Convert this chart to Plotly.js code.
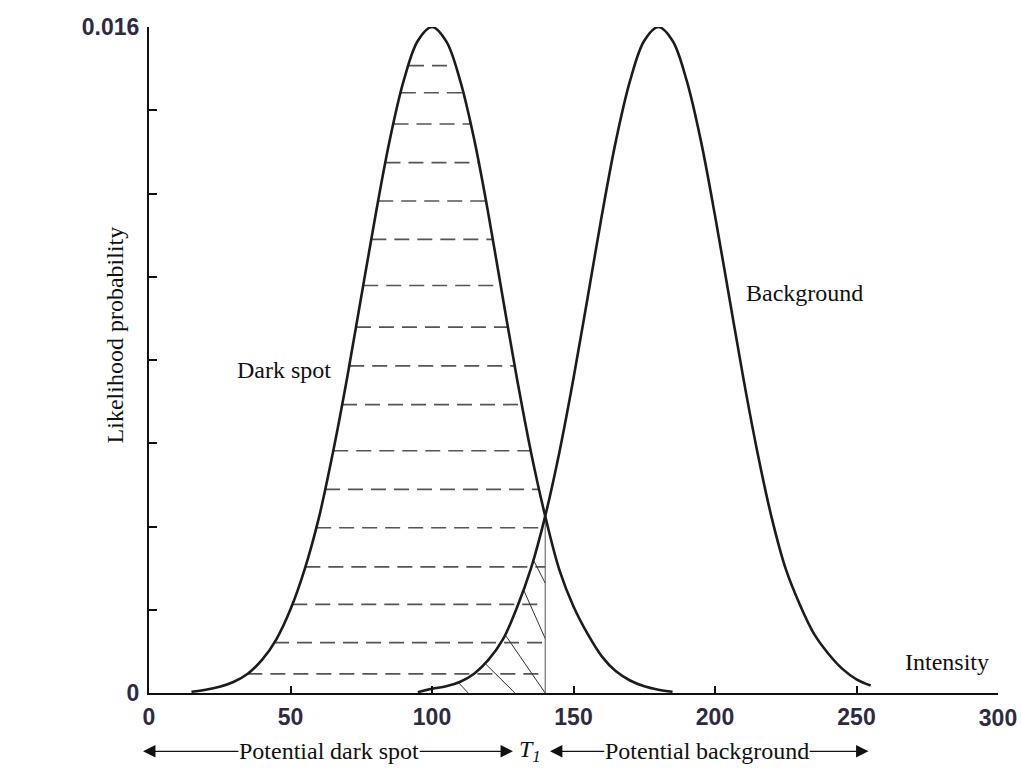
<!DOCTYPE html>
<html>
<head>
<meta charset="utf-8">
<script src="https://cdn.plot.ly/plotly-3.0.1.min.js"></script>
<style>html,body{margin:0;padding:0;background:#fff;}#chart{width:1021px;height:773px;}</style>
</head>
<body>
<div id="chart"></div>
<script>
// ---- data ----
const darkX = [15,20,25,30,35,40,45,50,55,60,65,70,75,80,85,90,95,100,105,110,115,120,125,130,135,140,145,150,155,160,165,170,175,180,185];
const darkY = [0.00003,0.00008,0.00015,0.00027,0.00047,0.00080,0.00129,0.00201,0.00297,0.00420,0.00578,0.00757,0.00952,0.01146,0.01326,0.01471,0.01567,0.01600,0.01566,0.01470,0.01327,0.01148,0.00950,0.00756,0.00578,0.00425,0.00296,0.00208,0.00142,0.00088,0.00052,0.00030,0.00016,0.00008,0.00003];
const bgX = [95,100,105,110,115,120,125,130,135,140,145,150,155,160,165,170,175,180,185,190,195,200,205,210,215,220,225,230,235,240,245,250,255];
const bgY = [0.00002,0.00010,0.00016,0.00027,0.00047,0.00080,0.00128,0.00205,0.00300,0.00425,0.00578,0.00756,0.00950,0.01147,0.01327,0.01471,0.01567,0.01600,0.01567,0.01471,0.01327,0.01147,0.00952,0.00757,0.00578,0.00422,0.00298,0.00212,0.00142,0.00095,0.00058,0.00033,0.00018];
const threshold = 140; // T1
const hatchLevels = [0.01507,0.01442,0.01367,0.01274,0.01182,0.01090,0.00979,0.00879,0.00786,0.00693,0.00582,0.00489,0.00397,0.00303,0.00213,0.00121,0.00046];
const diagStartX = [109.3,118.7,125.8,132.3,135.8];
const diagEndX = [112.8,129.3,140,140,140];
const diagEndY = [0,0,0,0.00131,0.00264];
const xTickVals = [0,50,100,150,200,250];
const xTickText = ['0','50','100','150','200','250'];
const xEndTickVals = [300];
const xEndTickText = ['300'];
const yTickVals = [0,0.002,0.004,0.006,0.008,0.010,0.012,0.014,0.016];
const yTickText = ['0','','','','','','','','0.016'];

// ---- helpers ----
function interpY(xs, ys, x){
  for(let i=0;i<xs.length-1;i++){
    if(x>=xs[i] && x<=xs[i+1]){const t=(x-xs[i])/(xs[i+1]-xs[i]);return ys[i]+t*(ys[i+1]-ys[i]);}
  }
  return 0;
}
function interpXRising(xs, ys, y){
  for(let i=0;i<xs.length-1;i++){
    if(ys[i+1]<ys[i]) break;
    if(y>=ys[i] && y<=ys[i+1]){const t=(y-ys[i])/(ys[i+1]-ys[i]);return xs[i]+t*(xs[i+1]-xs[i]);}
  }
  return null;
}
function interpXFalling(xs, ys, y){
  let peak = ys.indexOf(Math.max(...ys));
  for(let i=peak;i<xs.length-1;i++){
    if(y<=ys[i] && y>=ys[i+1]){const t=(ys[i]-y)/(ys[i]-ys[i+1]);return xs[i]+t*(xs[i+1]-xs[i]);}
  }
  return null;
}

const hx=[], hy=[];
hatchLevels.forEach(l=>{
  const a = interpXRising(darkX, darkY, l);
  let b = interpXFalling(darkX, darkY, l);
  b = Math.min(b, threshold);
  hx.push(a,b,null); hy.push(l,l,null);
});
const dx=[], dy=[];
diagStartX.forEach((s,i)=>{
  dx.push(s, diagEndX[i], null);
  dy.push(interpY(bgX,bgY,s), diagEndY[i], null);
});
const tY = interpY(darkX, darkY, threshold);

const curveStyle = {color:'#1c1c1c', width:2.6, shape:'spline', smoothing:1};
const traces = [
  {x:hx, y:hy, mode:'lines', line:{color:'#555', width:1.7, dash:'15px,8px'}, hoverinfo:'skip'},
  {x:dx, y:dy, mode:'lines', line:{color:'#333', width:1}, hoverinfo:'skip'},
  {x:[threshold,threshold], y:[0,tY], mode:'lines', line:{color:'#555', width:1}, hoverinfo:'skip'},
  {x:darkX, y:darkY, mode:'lines', line:curveStyle, name:'Dark spot', cliponaxis:false},
  {x:bgX, y:bgY, mode:'lines', line:curveStyle, name:'Background', cliponaxis:false},
  {x:xEndTickVals, y:[0], xaxis:'x2', mode:'markers', marker:{opacity:0}, hoverinfo:'skip'}
];

const serif = {family:'Liberation Serif, Times New Roman, serif', size:24, color:'#111'};
const tickFont = {family:'Liberation Sans, Arial, sans-serif', size:23, color:'#2f2b3f', weight:'bold'};
const rowY = -0.0875;
function label(x, y, xref, yref, text, extra){
  return Object.assign({x:x, y:y, xref:xref, yref:yref, text:text, showarrow:false, font:serif, xanchor:'center', yanchor:'middle'}, extra||{});
}
function arrowWord(text, textX, anchor, tipX){
  return {x:tipX, y:rowY, xref:'x', yref:'paper', ax:textX, axref:'x', ay:0, ayref:'pixel',
    text:text, font:serif, xanchor:anchor, yanchor:'middle', borderpad:0,
    showarrow:true, arrowhead:2, arrowsize:1.9, arrowwidth:1.3, arrowcolor:'#111', standoff:0, startstandoff:0};
}
const annotations = [
  label(47.7, 0.00776, 'x', 'y', 'Dark spot'),
  label(231.6, 0.00962, 'x', 'y', 'Background'),
  label(281.9, 0.00075, 'x', 'y', 'Intensity'),
  label(-0.04, 0.537, 'paper', 'paper', 'Likelihood probability', {textangle:-90}),
  arrowWord('Potential', 62.5, 'right', -2.1),
  arrowWord('dark spot', 63.7, 'left', 128.6),
  label(134.6, rowY, 'x', 'paper', '<i>T<sub>1</sub></i>'),
  arrowWord('Potential', 191.8, 'right', 141.7),
  arrowWord('background', 193.0, 'left', 254.2)
];

const layout = {
  width:1021, height:773,
  margin:{l:149, r:23, t:27, b:80},
  paper_bgcolor:'#fff', plot_bgcolor:'#fff',
  showlegend:false,
  xaxis:{range:[0,300], showgrid:false, zeroline:false, showline:true, linecolor:'#111', linewidth:2,
    ticks:'inside', ticklen:7, tickwidth:2, tickcolor:'#111', tickvals:xTickVals, ticktext:xTickText,
    tickfont:tickFont, ticklabelstandoff:2, fixedrange:true},
  xaxis2:{range:[0,300], overlaying:'x', anchor:'y', side:'bottom', showgrid:false, zeroline:false, showline:false,
    ticks:'', tickvals:xEndTickVals, ticktext:xEndTickText, tickfont:tickFont, ticklabelstandoff:9, fixedrange:true},
  yaxis:{range:[0,0.016], showgrid:false, zeroline:false, showline:true, linecolor:'#111', linewidth:2,
    ticks:'inside', ticklen:8, tickwidth:2, tickcolor:'#111', tickvals:yTickVals, ticktext:yTickText,
    tickfont:tickFont, ticklabelstandoff:3, fixedrange:true},
  annotations:annotations
};
Plotly.newPlot('chart', traces, layout, {staticPlot:true, displayModeBar:false});
</script>
</body>
</html>
